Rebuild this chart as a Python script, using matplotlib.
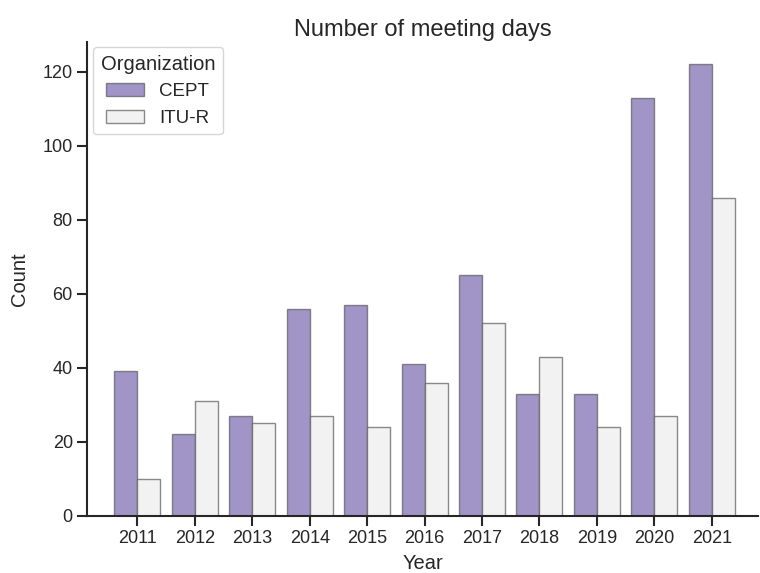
import numpy as np
import pandas as pd
import seaborn as sns
import matplotlib
matplotlib.use("Agg")
import matplotlib.pyplot as plt

years = [2011, 2012, 2013, 2014, 2015, 2016, 2017, 2018, 2019, 2020, 2021]
cept = [39, 22, 27, 56, 57, 41, 65, 33, 33, 113, 122]
itu_r = [10, 31, 25, 27, 24, 36, 52, 43, 24, 27, 86]
orgs = ["CEPT", "ITU-R"]

df = pd.DataFrame({
    "Year": years * 2,
    "Count": cept + itu_r,
    "Organization": ["CEPT"] * len(years) + ["ITU-R"] * len(years),
})

sns.set_theme(style="ticks")
plt.rcParams['font.family'] = ['Liberation Sans', 'DejaVu Sans']
plt.rcParams['axes.linewidth'] = 1.5

fig, ax = plt.subplots(figsize=(7.6, 5.73), dpi=100)
sns.barplot(data=df, x="Year", y="Count", hue="Organization", hue_order=orgs,
            palette=["#a195c8", "#f2f2f2"], edgecolor="0.4", linewidth=1,
            saturation=1, ax=ax)
for p in ax.patches:
    p.set_edgecolor((0.35, 0.35, 0.35, 0.7))

sns.despine(ax=ax)
ax.set_xlim(-0.87, 10.8)
ax.set_title("Number of meeting days", fontsize=17, pad=4)
ax.set_xlabel("Year", fontsize=14.5, labelpad=5)
ax.set_ylabel("Count", fontsize=14.5, labelpad=10)
ax.tick_params(labelsize=13, length=7, width=1.5)
ax.set_yticks([0, 20, 40, 60, 80, 100, 120])
leg = ax.legend(title="Organization", loc="upper left", fontsize=13.5,
                title_fontsize=14.5, borderaxespad=0.3)

fig.subplots_adjust(left=0.115, right=0.997, top=0.927, bottom=0.1)
fig.savefig("out.png", dpi=100)
